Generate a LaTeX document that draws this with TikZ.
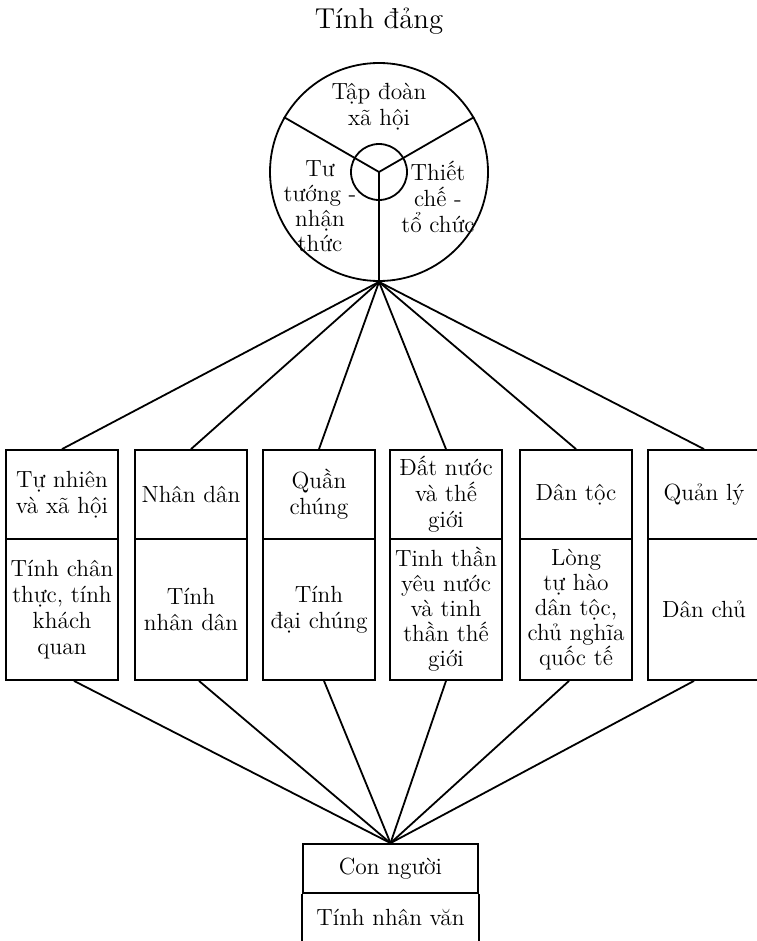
\documentclass[tikz,border=0pt]{standalone}
\usepackage{tikz}

\begin{document}
\begin{tikzpicture}[x=0.5pt,y=-0.5pt,line width=0.9pt,
  every node/.style={font=\fontsize{11.7}{13}\selectfont},
  otren/.style={draw,text width=54pt,inner xsep=1pt,inner ysep=1pt,align=center,minimum height=44.5pt},
  oduoi/.style={draw,text width=54pt,inner xsep=1pt,inner ysep=1pt,align=center,minimum height=70.5pt}]
  \useasboundingbox (0,0) rectangle (756,941);
  \node[font=\fontsize{14.4}{16}\selectfont] (tieude) at (379,21) {Tính đảng};
  % vòng tròn ba phần
  \node[draw,circle,inner sep=0pt,minimum size=109pt] (vong) at (379,172) {};
  \node[draw,circle,inner sep=0pt,minimum size=28pt] (tam) at (379,172) {};
  \draw (vong.center) -- (vong.150);
  \draw (vong.center) -- (vong.30);
  \draw (vong.center) -- (vong.south);
  \node[align=center] (tapdoan) at (379,107) {Tập đoàn\\xã hội};
  \node[align=center,font=\fontsize{11.7}{12.5}\selectfont] (tutuong) at (320,206) {Tư\\tướng -\\nhận\\thức};
  \node[align=center] (thietche) at (438,197) {Thiết\\chế -\\tổ chức};
  % các ô phía trên
  \node[otren] (dt1) at (62,494.5) {Tự nhiên\\và xã hội};
  \node[otren] (dt2) at (191,494.5) {Nhân dân};
  \node[otren] (dt3) at (319,494.5) {Quần\\chúng};
  \node[otren] (dt4) at (446,494.5) {Đất nước\\và thế\\giới};
  \node[otren] (dt5) at (576,494.5) {Dân tộc};
  \node[otren] (dt6) at (704,494.5) {Quản lý};
  % các ô phía dưới
  \node[oduoi] (tc1) at (62,609.5) {Tính chân\\thực, tính\\khách\\quan};
  \node[oduoi] (tc2) at (191,609.5) {Tính\\nhân dân};
  \node[oduoi] (tc3) at (319,609.5) {Tính\\đại chúng};
  \node[oduoi,font=\fontsize{11.7}{12.5}\selectfont] (tc4) at (446,609.5) {Tinh thần\\yêu nước\\và tinh\\thần thế\\giới};
  \node[oduoi,font=\fontsize{11.7}{12.5}\selectfont] (tc5) at (576,609.5) {Lòng\\tự hào\\dân tộc,\\chủ nghĩa\\quốc tế};
  \node[oduoi] (tc6) at (704,609.5) {Dân chủ\\[7pt]};
  % con người
  \node[draw,minimum width=87.5pt,minimum height=24.5pt,inner sep=0pt] (con) at (390.5,868.5) {Con người};
  \draw (con.south west) -- ++(0,60);
  \draw (con.south east) -- ++(0,60);
  \node (nhanvan) at (390.5,917) {Tính nhân văn};
  % đường nối
  \draw (vong.south) -- (dt1.north);
  \draw (vong.south) -- (dt2.north);
  \draw (vong.south) -- (dt3.north);
  \draw (vong.south) -- (dt4.north);
  \draw (vong.south) -- (dt5.north);
  \draw (vong.south) -- (dt6.north);
  \draw ([xshift=6pt]tc1.south) -- (con.north);
  \draw ([xshift=4pt]tc2.south) -- (con.north);
  \draw ([xshift=2.5pt]tc3.south) -- (con.north);
  \draw (tc4.south) -- (con.north);
  \draw ([xshift=-3.5pt]tc5.south) -- (con.north);
  \draw ([xshift=-5pt]tc6.south) -- (con.north);
\end{tikzpicture}
\end{document}
